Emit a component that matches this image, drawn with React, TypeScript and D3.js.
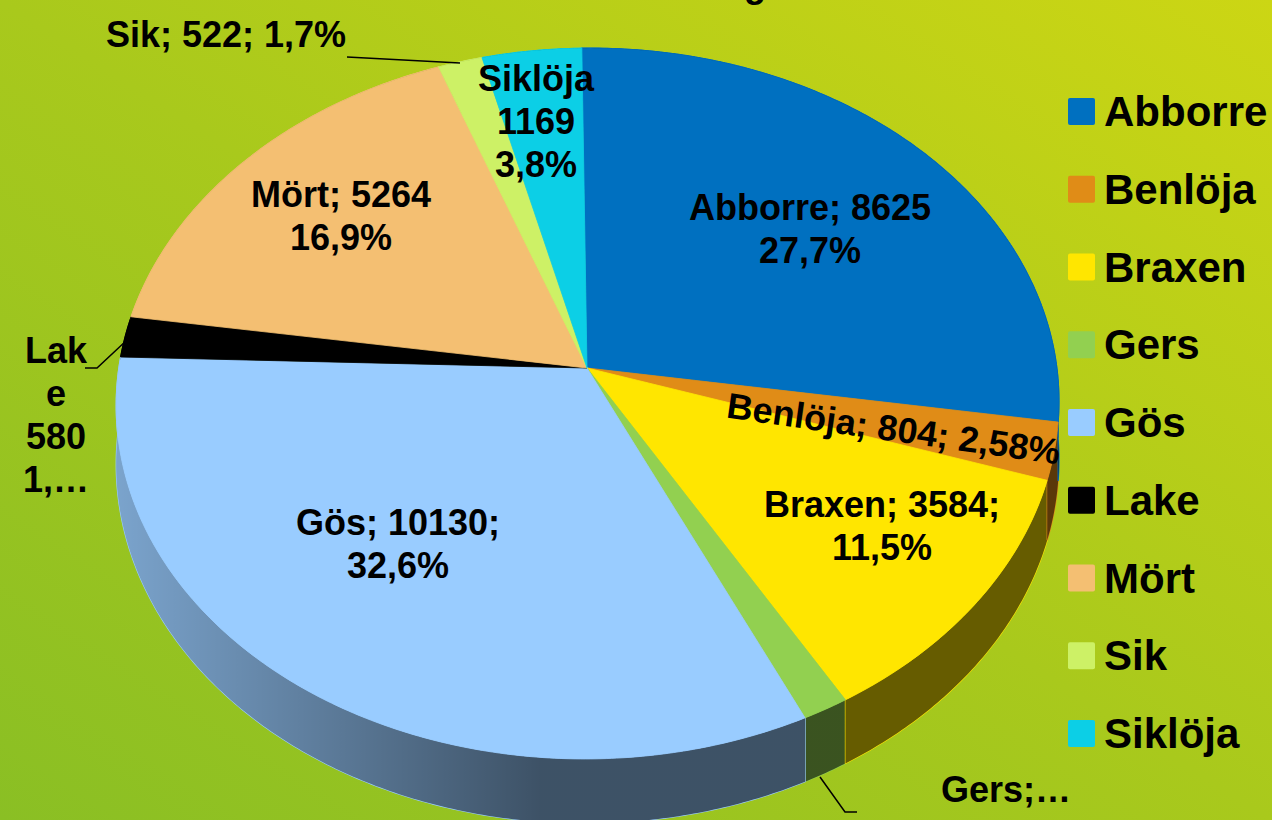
import React from 'react';
import * as d3 from 'd3';

// catch per species
const species = ['Abborre', 'Benlöja', 'Braxen', 'Gers', 'Gös', 'Lake', 'Mört', 'Sik', 'Siklöja'];
const counts = [8625, 804, 3584, 450, 10130, 580, 5264, 522, 1169];
const colors = ['#0070c0', '#e08c17', '#ffe600', '#92d050', '#99ccff', '#000000', '#f4bf72', '#cdf166', '#0ccfe6'];
const labelLines = [
  ['Abborre; 8625', '27,7%'],
  ['Benlöja; 804; 2,58%'],
  ['Braxen; 3584;', '11,5%'],
  ['Gers;…'],
  ['Gös; 10130;', '32,6%'],
  ['Lak', 'e', '580', '1,…'],
  ['Mört; 5264', '16,9%'],
  ['Sik; 522; 1,7%'],
  ['Siklöja', '1169', '3,8%'],
];
const title = 'Artfördelning';

// label placement (x, first baseline, rotation)
const labelPos: [number, number, number][] = [
  [810, 220, 0],
  [892, 441, 8],
  [882, 517, 0],
  [1006, 802, 0],
  [398, 535, 0],
  [56, 363, 0],
  [341, 207, 0],
  [226, 47, 0],
  [536, 91, 0],
];
const leaders: Record<string, [number, number][]> = {
  Sik: [[347, 57], [460, 63]],
  Lake: [[85, 368], [97, 368], [127, 340]],
  Gers: [[857, 812], [845, 812], [820, 777]],
};

const W = 1272;
const H = 820;
// perspective projection of the pie disc
const PA = 469, PB = 53, PCX = 587, PD = -6.5, PE = -315, PCY = 368, PH = 0.1;
const DEPTH = 58;
const FONT = '"Liberation Sans", Arial, sans-serif';

function proj(theta: number, drop = 0): [number, number] {
  const X = Math.sin(theta);
  const Z = Math.cos(theta);
  const w = 1 + PH * Z;
  return [(PA * X + PB * Z + PCX) / w, (PD * X + PE * Z + PCY + drop) / w];
}

function arcPoints(a: number, b: number, drop = 0) {
  const n = Math.max(2, Math.ceil((b - a) / 0.01));
  return d3.range(n + 1).map(i => proj(a + ((b - a) * i) / n, drop));
}

export default function App() {
  const arcs = d3.pie<number>().sort(null).value(d => d)(counts);
  const line = d3.line();

  const sideOrder = arcs
    .map((a, i) => ({ a, i }))
    .sort((p, q) => Math.cos((q.a.startAngle + q.a.endAngle) / 2) - Math.cos((p.a.startAngle + p.a.endAngle) / 2))
    .reverse();

  const rowY = d3.scaleLinear().domain([0, species.length - 1]).range([111, 733]);

  return (
    <svg width={W} height={H} style={{ position: 'absolute', left: 0, top: 0, display: 'block' }}>
      <defs>
        <linearGradient id="bg" x1="0" y1="1" x2="1" y2="0">
          <stop offset="0" stopColor="#8abf24" />
          <stop offset="0.5" stopColor="#a9c91c" />
          <stop offset="1" stopColor="#ccd614" />
        </linearGradient>
        <linearGradient id="shade" gradientUnits="userSpaceOnUse" x1="118" y1="0" x2="1058" y2="0">
          <stop offset="0" stopColor="#000" stopOpacity="0.2" />
          <stop offset="0.45" stopColor="#000" stopOpacity="0.6" />
          <stop offset="1" stopColor="#000" stopOpacity="0.6" />
        </linearGradient>
      </defs>
      <rect width={W} height={H} fill="url(#bg)" />
      <text x={766} y={-3} textAnchor="end" fontFamily={FONT} fontWeight="bold" fontSize={36}>{title}</text>

      {/* sides */}
      {sideOrder.map(({ a, i }) => {
        const top = arcPoints(a.startAngle, a.endAngle);
        const bot = arcPoints(a.startAngle, a.endAngle, DEPTH).reverse();
        const d = line([...top, ...bot]) + 'Z';
        return (
          <g key={'s' + i}>
            <path d={d} fill={colors[i]} stroke={colors[i]} strokeWidth={1.2} />
            <path d={d} fill="url(#shade)" />
          </g>
        );
      })}

      {/* top faces */}
      {arcs.map((a, i) => {
        const pts = [proj(0, 0).map((v, k) => (k === 0 ? PCX : PCY)) as [number, number], ...arcPoints(a.startAngle, a.endAngle)];
        return <path key={'t' + i} d={line(pts) + 'Z'} fill={colors[i]} stroke={colors[i]} strokeWidth={0.8} />;
      })}

      {/* leader lines */}
      {Object.entries(leaders).map(([k, pts]) => (
        <path key={k} d={line(pts) ?? ''} fill="none" stroke="#000" strokeWidth={1.5} />
      ))}

      {/* data labels */}
      {labelLines.map((lines, i) => {
        const [x, y, r] = labelPos[i];
        return (
          <text key={'l' + i} x={x} y={y} textAnchor="middle" fontFamily={FONT} fontWeight="bold" fontSize={36}
            fill="#000" transform={r ? `rotate(${r} ${x} ${y})` : undefined}>
            {lines.map((t, j) => (
              <tspan key={j} x={x} y={y + j * 43}>{t}</tspan>
            ))}
          </text>
        );
      })}

      {/* legend */}
      {species.map((s, i) => (
        <g key={'g' + i} transform={`translate(0,${rowY(i)})`}>
          <rect x={1068} y={-13} width={27} height={27} rx={2} fill={colors[i]} />
          <text x={1104} y={15} fontFamily={FONT} fontWeight="bold" fontSize={42}>{s}</text>
        </g>
      ))}
    </svg>
  );
}
